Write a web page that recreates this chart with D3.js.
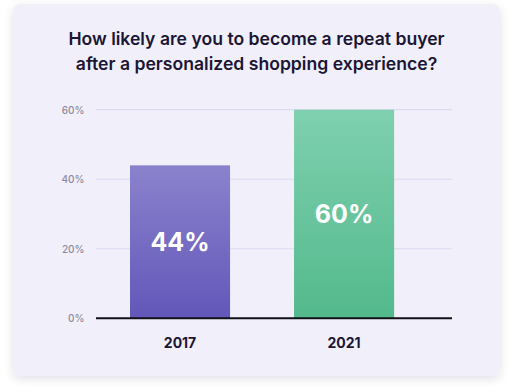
<!DOCTYPE html>
<html>
<head>
<meta charset="utf-8">
<script src="https://cdn.jsdelivr.net/npm/d3@7"></script>
<style>
  html, body { margin: 0; padding: 0; background: #ffffff; }
  svg { display: block; }
</style>
</head>
<body>
<svg id="chart" width="512" height="392"></svg>
<script>
const titleLines = ["How likely are you to become a repeat buyer", "after a personalized shopping experience?"];
const categories = ["2017", "2021"];
const values = [44, 60];
const valueLabels = ["44%", "60%"];
const yTicks = [0, 20, 40, 60];
const yTickLabels = ["0%", "20%", "40%", "60%"];

const svg = d3.select("#chart");
const defs = svg.append("defs");

const shadow = defs.append("filter").attr("id", "shadow")
  .attr("x", "-10%").attr("y", "-10%").attr("width", "120%").attr("height", "125%");
shadow.append("feDropShadow").attr("dx", 0).attr("dy", 3).attr("stdDeviation", 5)
  .attr("flood-color", "#1b1635").attr("flood-opacity", 0.12);

const grads = [["g0", "#8b82cd", "#6257b9"], ["g1", "#7fd0af", "#53b98c"]];
grads.forEach(([id, top, bot]) => {
  const g = defs.append("linearGradient").attr("id", id).attr("x1", 0).attr("y1", 0).attr("x2", 0).attr("y2", 1);
  g.append("stop").attr("offset", "0%").attr("stop-color", top);
  g.append("stop").attr("offset", "100%").attr("stop-color", bot);
});

// card
svg.append("rect").attr("x", 13).attr("y", 4).attr("width", 487).attr("height", 372)
  .attr("rx", 7).attr("fill", "#f1f0fa").attr("filter", "url(#shadow)");

// title
svg.append("g").selectAll("text").data(titleLines).join("text")
  .attr("x", 256.5).attr("y", (d, i) => 44.5 + i * 25)
  .attr("text-anchor", "middle")
  .attr("font-family", "Inter, 'Noto Sans', sans-serif")
  .attr("font-weight", 600).attr("font-size", 17.6)
  .attr("fill", "#1b1635")
  .text(d => d);

const x = d3.scaleBand().domain(categories).range([96, 452])
  .paddingInner(0.39).paddingOuter(0.28).align(0.37);
const y = d3.scaleLinear().domain([0, 60]).range([318.3, 109.7]);

// grid
svg.append("g").selectAll("line").data(yTicks.filter(t => t > 0)).join("line")
  .attr("x1", 96).attr("x2", 452)
  .attr("y1", d => y(d)).attr("y2", d => y(d))
  .attr("stroke", "#dcdcf0").attr("stroke-width", 1.2);

// y axis labels
const yAxis = d3.axisLeft(y).tickValues(yTicks).tickFormat((d, i) => yTickLabels[i]).tickSize(0).tickPadding(0);
const yg = svg.append("g").attr("transform", "translate(84.5,0)").call(yAxis);
yg.select(".domain").remove();
yg.selectAll("text").attr("font-family", "Inter, 'Noto Sans', sans-serif")
  .attr("font-size", 10).attr("fill", "#8e8a9e").attr("font-weight", 500)
  .attr("dy", "0.35em");

// bars
svg.append("g").selectAll("rect").data(values).join("rect")
  .attr("x", (d, i) => x(categories[i]))
  .attr("width", x.bandwidth())
  .attr("y", d => y(d))
  .attr("height", d => y(0) - y(d))
  .attr("fill", (d, i) => `url(#g${i})`);

// value labels
svg.append("g").selectAll("text").data(values).join("text")
  .attr("x", (d, i) => x(categories[i]) + x.bandwidth() / 2)
  .attr("y", d => (y(d) + y(0)) / 2)
  .attr("dy", "0.36em")
  .attr("text-anchor", "middle")
  .attr("font-family", "Inter, 'Noto Sans', sans-serif")
  .attr("font-weight", 700).attr("font-size", 25)
  .attr("fill", "#ffffff")
  .text((d, i) => valueLabels[i]);

// x axis
const xAxis = d3.axisBottom(x).tickSize(0).tickPadding(0);
const xg = svg.append("g").attr("transform", `translate(0,${y(0)})`).call(xAxis);
xg.select(".domain").attr("stroke", "#111018").attr("stroke-width", 2)
  .attr("d", "M96,0H452");
xg.selectAll("text").attr("font-family", "Inter, 'Noto Sans', sans-serif")
  .attr("font-size", 14).attr("font-weight", 700).attr("fill", "#1b1635")
  .attr("y", 30).attr("dy", 0);
</script>
</body>
</html>
